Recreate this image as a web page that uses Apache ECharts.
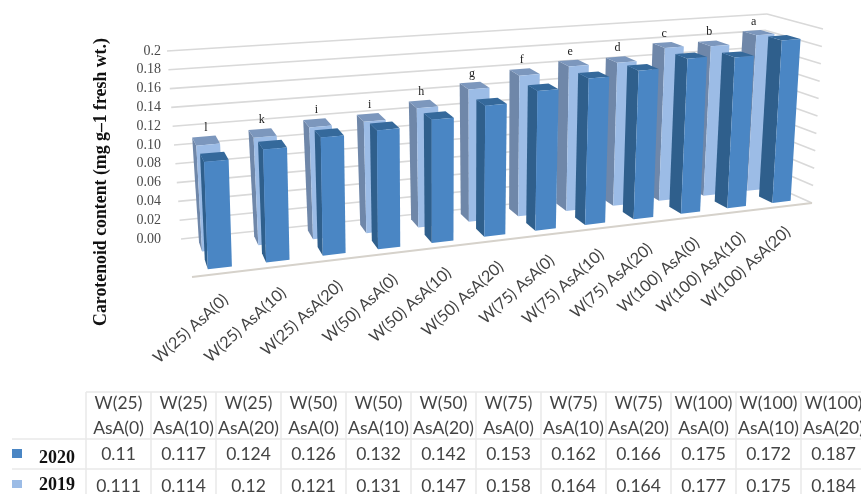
<!DOCTYPE html>
<html>
<head>
<meta charset="utf-8">
<script src="https://cdn.jsdelivr.net/npm/echarts@6/dist/echarts.min.js"></script>
<style>
  html, body { margin: 0; padding: 0; background: #fff; }
  #chart { width: 861px; height: 494px; }
</style>
</head>
<body>
<div id="chart"></div>
<script>
var categories = ['W(25) AsA(0)', 'W(25) AsA(10)', 'W(25) AsA(20)', 'W(50) AsA(0)', 'W(50) AsA(10)', 'W(50) AsA(20)',
  'W(75) AsA(0)', 'W(75) AsA(10)', 'W(75) AsA(20)', 'W(100) AsA(0)', 'W(100) AsA(10)', 'W(100) AsA(20)'];
var values2020 = [0.11, 0.117, 0.124, 0.126, 0.132, 0.142, 0.153, 0.162, 0.166, 0.175, 0.172, 0.187];
var values2019 = [0.111, 0.114, 0.12, 0.121, 0.131, 0.147, 0.158, 0.164, 0.164, 0.177, 0.175, 0.184];
var letters = ['l', 'k', 'i', 'i', 'h', 'g', 'f', 'e', 'd', 'c', 'b', 'a'];
var yTicks = [0, 0.02, 0.04, 0.06, 0.08, 0.1, 0.12, 0.14, 0.16, 0.18, 0.2];
var yTickLabels = ['0.00', '0.02', '0.04', '0.06', '0.08', '0.10', '0.12', '0.14', '0.16', '0.18', '0.2'];
var yTitle = 'Carotenoid content (mg g\u20131 fresh wt.)';

// corners of the 3d box on screen, [left, right] for each of bottom/top and front/back
var box = {
  frontBottom: [[192, 277], [812, 203]],
  frontTop: [[186, 80], [823, 29]],
  backBottom: [[181, 239], [756, 178]],
  backTop: [[167, 51], [767, 14]]
};
var persp = 0.165;
var barShare = 0.41;
var depth2020 = [0.15, 0.40];
var depth2019 = [0.62, 0.87];

var colors2020 = { front: '#4a86c4', side: '#2f5f8c', top: '#35699b' };
var colors2019 = { front: '#9cbce6', side: '#6f87a9', top: '#7c97bd' };

function mix(a, b, k) {
  return [a[0] + (b[0] - a[0]) * k, a[1] + (b[1] - a[1]) * k];
}

// t: along the categories 0-1, h: up the value axis 0-1, d: 0 front, 1 back
function project(t, h, d) {
  var u = t * (1 + persp) / (1 + persp * t);
  var bottom = mix(mix(box.frontBottom[0], box.frontBottom[1], u), mix(box.backBottom[0], box.backBottom[1], u), d);
  var top = mix(mix(box.frontTop[0], box.frontTop[1], u), mix(box.backTop[0], box.backTop[1], u), d);
  return mix(bottom, top, h);
}

function unit(params, api, x, y) {
  var c = api.coord([x, y]);
  var g = params.coordSys;
  return [(c[0] - g.x) / g.width, (g.y + g.height - c[1]) / g.height];
}

function poly(points, color) {
  return { type: 'polygon', shape: { points: points }, style: { fill: color } };
}

function renderBars(depth, colors, withLetters) {
  return function (params, api) {
    var i = api.value(0);
    var p = unit(params, api, i, api.value(1));
    var half = barShare * api.size([1, 0])[0] / params.coordSys.width / 2;
    var t0 = p[0] - half, t1 = p[0] + half, h = p[1], d0 = depth[0], d1 = depth[1];
    var children = [
      poly([project(t0, 0, d0), project(t0, 0, d1), project(t0, h, d1), project(t0, h, d0)], colors.side),
      poly([project(t0, h, d0), project(t0, h, d1), project(t1, h, d1), project(t1, h, d0)], colors.top),
      poly([project(t0, 0, d0), project(t1, 0, d0), project(t1, h, d0), project(t0, h, d0)], colors.front)
    ];
    if (withLetters) {
      var a = project(p[0], h, d1);
      children.push({
        type: 'text',
        style: { text: letters[i], x: a[0] + 2, y: a[1] - 3, align: 'center', verticalAlign: 'bottom', fill: '#222', font: '12px "Liberation Serif"' }
      });
    }
    return { type: 'group', children: children };
  };
}

function renderWalls(params, api) {
  var tick = api.value(1);
  var h = unit(params, api, 0, tick)[1];
  var line = { stroke: '#d9d9d9', lineWidth: 1.6 };
  var back = project(0, h, 1), corner = project(1, h, 1), side = project(1, h, 0);
  var children = [
    { type: 'line', shape: { x1: back[0], y1: back[1], x2: corner[0], y2: corner[1] }, style: line },
    { type: 'line', shape: { x1: corner[0], y1: corner[1], x2: side[0], y2: side[1] }, style: line },
    {
      type: 'text',
      style: { text: yTickLabels[api.value(0)], x: 161, y: back[1], align: 'right', verticalAlign: 'middle', fill: '#4a4a4a', font: '14px "Liberation Serif"' }
    }
  ];
  if (tick === 0) {
    var a = project(0, 0, 0), b = project(1, 0, 0);
    children.push({ type: 'line', shape: { x1: a[0], y1: a[1], x2: b[0], y2: b[1] }, style: { stroke: '#d6d2cb', lineWidth: 2 } });
  }
  return { type: 'group', children: children };
}

function renderCatLabel(params, api) {
  var i = api.value(0);
  var p = unit(params, api, i, 0);
  var a = project(p[0], 0, 0);
  return {
    type: 'text',
    x: a[0] + 4 - 6 * p[0],
    y: a[1] + 24,
    rotation: 0.73,
    style: { text: categories[i], x: 0, y: 0, align: 'right', verticalAlign: 'middle', fill: '#444', font: '16px Lato' }
  };
}

// the table under the chart
var tableLeft = 86, colW = 65, rowTop = 392, rowHead = 439, rowA = 469, rowEnd = 494;
var tableGraphic = [];

function hLine(x1, x2, y) {
  tableGraphic.push({ type: 'line', shape: { x1: x1, y1: y, x2: x2, y2: y }, style: { stroke: '#e8e8e8', lineWidth: 1.5 } });
}
function cell(text, x, y, font, color) {
  tableGraphic.push({ type: 'text', style: { text: text, x: x, y: y, align: 'center', verticalAlign: 'middle', font: font, fill: color || '#444', lineHeight: 25 } });
}

hLine(tableLeft, 861, rowTop);
hLine(12, 861, rowHead);
hLine(12, 861, rowA);
for (var c = 0; c <= categories.length; c++) {
  var lx = tableLeft + c * colW;
  tableGraphic.push({ type: 'line', shape: { x1: lx, y1: rowTop, x2: lx, y2: rowEnd }, style: { stroke: '#e8e8e8', lineWidth: 1.5 } });
}
categories.forEach(function (name, i) {
  var cx = tableLeft + (i + 0.5) * colW;
  cell(name.replace(' ', '\n'), cx, 415.5, '17.5px Lato');
  cell(String(values2020[i]), cx, 454, '17.5px Lato');
  cell(String(values2019[i]), cx, 486, '17.5px Lato');
});
tableGraphic.push({ type: 'rect', shape: { x: 12, y: 449, width: 10, height: 9 }, style: { fill: colors2020.front } });
tableGraphic.push({ type: 'rect', shape: { x: 12, y: 480, width: 10, height: 8 }, style: { fill: colors2019.front } });
cell('2020', 57, 458, 'bold 18px "Liberation Serif"', '#111');
cell('2019', 57, 485, 'bold 18px "Liberation Serif"', '#111');

tableGraphic.push({
  type: 'text',
  x: 101,
  y: 182,
  rotation: Math.PI / 2,
  style: { text: yTitle, x: 0, y: 0, align: 'center', verticalAlign: 'middle', font: 'bold 17.8px "Liberation Serif"', fill: '#111' }
});

function pairs(list) {
  return list.map(function (v, i) { return [i, v]; });
}

var myChart = echarts.init(document.getElementById('chart'));
myChart.setOption({
  animation: false,
  backgroundColor: '#fff',
  grid: { left: 100, top: 50, width: 600, height: 200 },
  xAxis: { type: 'category', data: categories, show: false },
  yAxis: { type: 'value', min: 0, max: 0.2, interval: 0.02, show: false },
  graphic: tableGraphic,
  series: [
    { type: 'custom', name: 'walls', renderItem: renderWalls, data: pairs(yTicks), z: 1, silent: true },
    { type: 'custom', name: '2019', renderItem: renderBars(depth2019, colors2019, true), data: pairs(values2019), z: 2, silent: true },
    { type: 'custom', name: '2020', renderItem: renderBars(depth2020, colors2020, false), data: pairs(values2020), z: 3, silent: true },
    { type: 'custom', name: 'labels', renderItem: renderCatLabel, data: pairs(values2020), z: 4, silent: true }
  ]
});
</script>
</body>
</html>
